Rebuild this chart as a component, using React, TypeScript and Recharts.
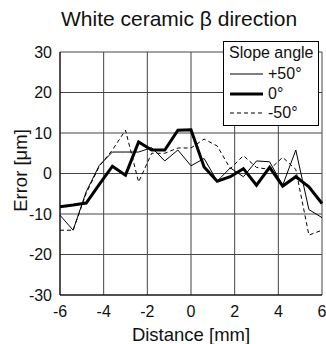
import React from 'react';
import { LineChart, Line, XAxis, YAxis, CartesianGrid, Legend } from 'recharts';

const DISTANCE = [-6, -5.4, -4.8, -4.2, -3.6, -3, -2.4, -1.8, -1.2, -0.6, 0, 0.6, 1.2, 1.8, 2.4, 3, 3.6, 4.2, 4.8, 5.4, 6];
const PLUS_50 = [-10.3, -14.0, -4.5, 2.0, 5.3, 5.3, 5.3, 6.4, 3.1, 5.8, 1.9, 3.7, -1.9, 1.4, -0.8, 3.1, 2.9, -2.9, 5.8, -8.9, -10.9];
const ZERO = [-8.2, -7.8, -7.3, -2.7, 1.8, -0.4, 7.8, 5.8, 5.8, 10.7, 10.8, 1.6, -1.9, -0.8, 1.2, -2.9, 1.5, -3.1, -0.8, -3.3, -7.4];
const MINUS_50 = [-14.0, -14.0, -4.9, 1.8, 5.8, 10.7, -2.1, 5.0, 5.0, 6.3, 6.3, 8.5, 6.8, 1.2, 4.4, 1.5, 1.0, 4.0, 1.0, -15.2, -14.0];
const X_TICKS = [-6, -4, -2, 0, 2, 4, 6];
const Y_TICKS = [-30, -20, -10, 0, 10, 20, 30];

const FONT = '"Liberation Sans", Arial, Helvetica, sans-serif';

const data = DISTANCE.map((d, i) => ({ d, p50: PLUS_50[i], z: ZERO[i], m50: MINUS_50[i] }));

const LEGEND_ROWS = [
  { label: '+50°', width: 1, dash: undefined },
  { label: '0°', width: 3, dash: undefined },
  { label: '-50°', width: 1, dash: '4 3' },
];

const SlopeLegend = () => (
  <div
    style={{
      position: 'absolute',
      left: 223,
      top: 41,
      width: 94,
      height: 83,
      background: '#fff',
      border: '1px solid #000',
      fontFamily: FONT,
      fontSize: 16,
      color: '#111',
    }}
  >
    <div style={{ position: 'absolute', left: 5, top: 2, whiteSpace: 'nowrap' }}>Slope angle</div>
    {LEGEND_ROWS.map((r, i) => (
      <div key={r.label} style={{ position: 'absolute', left: 6, top: 22 + i * 19.5, height: 20, display: 'flex', alignItems: 'center' }}>
        <svg width={33} height={6}>
          <line x1={0} y1={3} x2={33} y2={3} stroke="#000" strokeWidth={r.width} strokeDasharray={r.dash} />
        </svg>
        <span style={{ marginLeft: 5 }}>{r.label}</span>
      </div>
    ))}
  </div>
);

export default function App() {
  return (
    <div style={{ position: 'absolute', left: 0, top: 0, width: 326, height: 344, background: '#fff', fontFamily: FONT }}>
      <div style={{ position: 'absolute', left: 61, top: 7, whiteSpace: 'nowrap', fontSize: 21, color: '#111' }}>
        White ceramic β direction
      </div>
      <LineChart width={326} height={344} data={data} margin={{ top: 52, right: 4, bottom: 0, left: 0 }}>
        <CartesianGrid stroke="#444" strokeWidth={1} />
        <XAxis
          dataKey="d"
          type="number"
          domain={[-6, 6]}
          ticks={X_TICKS}
          height={49}
          tickLine={false}
          axisLine={{ stroke: '#000' }}
          tick={{ fontSize: 16, fill: '#111', fontFamily: FONT }}
          tickMargin={5}
          label={{ value: 'Distance [mm]', position: 'insideBottom', offset: 3, fontSize: 18.5, fill: '#111', fontFamily: FONT }}
        />
        <YAxis
          type="number"
          domain={[-30, 30]}
          ticks={Y_TICKS}
          width={60}
          tickLine={false}
          axisLine={{ stroke: '#000' }}
          tick={{ fontSize: 16, fill: '#111', fontFamily: FONT }}
          tickMargin={2}
          label={{ value: 'Error [μm]', angle: -90, position: 'insideLeft', offset: 20, dy: -3, fontSize: 18.5, fill: '#111', fontFamily: FONT, style: { textAnchor: 'middle' } }}
        />
        <Legend content={() => <SlopeLegend />} wrapperStyle={{ position: 'absolute', left: 0, top: 0, width: 0, height: 0 }} />
        <Line dataKey="m50" stroke="#000" strokeWidth={1} strokeDasharray="4 3" dot={false} isAnimationActive={false} />
        <Line dataKey="p50" stroke="#000" strokeWidth={1} dot={false} isAnimationActive={false} />
        <Line dataKey="z" stroke="#000" strokeWidth={3} dot={false} isAnimationActive={false} />
      </LineChart>
    </div>
  );
}
